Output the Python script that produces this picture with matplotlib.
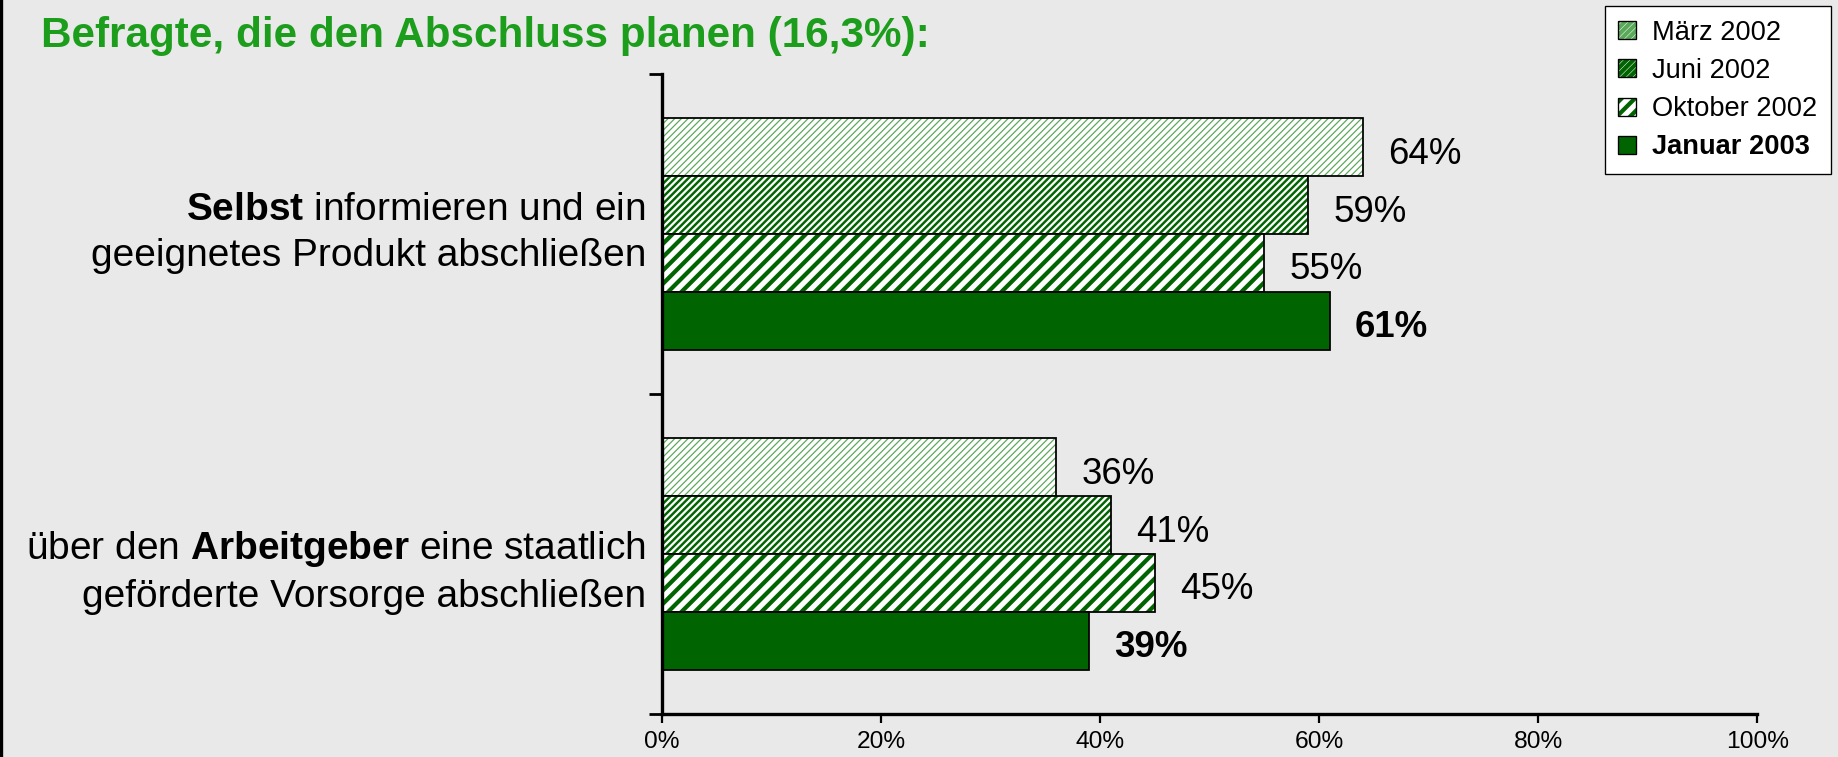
import matplotlib
matplotlib.use("Agg")
import matplotlib.pyplot as plt
from matplotlib.patches import Patch
from matplotlib.legend_handler import HandlerTuple

plt.rcParams['font.family'] = ['Liberation Sans', 'DejaVu Sans']
plt.rcParams['mathtext.fontset'] = 'custom'
plt.rcParams['mathtext.rm'] = 'Liberation Sans'
plt.rcParams['mathtext.bf'] = 'Liberation Sans:bold'

# data
categories = [r"$\mathbf{Selbst}$ informieren und ein" + "\n" + "geeignetes Produkt abschließen",
              r"über den $\mathbf{Arbeitgeber}$ eine staatlich" + "\n" + "geförderte Vorsorge abschließen"]
series = ["März 2002", "Juni 2002", "Oktober 2002", "Januar 2003"]
values = {
    "März 2002": [64, 36],
    "Juni 2002": [59, 41],
    "Oktober 2002": [55, 45],
    "Januar 2003": [61, 39],
}
xticks = [0, 20, 40, 60, 80, 100]
title = "Befragte, die den Abschluss planen (16,3%):"

DPI = 80
bg = '#e9e9e9'
dark = '#006400'
styles = {
    "März 2002": dict(hatch='////', color='#5aa85a', hlw=1.1),
    "Juni 2002": dict(hatch='////', color=dark, hlw=2.2),
    "Oktober 2002": dict(hatch='//', color=dark, hlw=3.8),
    "Januar 2003": dict(hatch=None, color=dark, hlw=1.0),
}

fig = plt.figure(figsize=(1838 / DPI, 757 / DPI), dpi=DPI, facecolor=bg)
ax = fig.add_axes([0.3602, 0.0568, 0.956 - 0.3602, 0.9022 - 0.0568], facecolor=bg)

centers = [1.5, 0.5]
label_shift = [1, -18]   # pixel nudges of the category labels
h = 0.181
offsets = [1.5, 0.5, -0.5, -1.5]


def hatched(patch, st):
    if hasattr(patch, 'set_hatch_linewidth'):
        patch.set_hatch_linewidth(st['hlw'])


for s, off in zip(series, offsets):
    st = styles[s]
    ys = [c + off * h for c in centers]
    if st['hatch']:
        plt.rcParams['hatch.linewidth'] = st['hlw']
        bars = ax.barh(ys, values[s], height=h, color='white', edgecolor=st['color'],
                       hatch=st['hatch'], linewidth=0)
        for b in bars:
            hatched(b, st)
        ax.barh(ys, values[s], height=h, fill=False, edgecolor='black', linewidth=1.6)
    else:
        ax.barh(ys, values[s], height=h, color=st['color'], edgecolor='black', linewidth=1.6)
    for y, v in zip(ys, values[s]):
        ax.annotate(f"{v}%", (v, y), xytext=(25, -7), textcoords='offset pixels',
                    va='center', ha='left', fontsize=33,
                    fontweight='bold' if s == "Januar 2003" else 'normal')

ax.set_xlim(0, 100)
ax.set_ylim(0, 2)
ax.set_xticks(xticks)
ax.set_xticklabels([f"{t}%" for t in xticks], fontsize=22)
ax.set_yticks([0, 1, 2])
ax.set_yticklabels([])
ax.tick_params(axis='y', which='major', length=12, width=2.5, direction='out')
ax.tick_params(axis='x', length=8, width=2, direction='out', pad=7)
for sp in ['top', 'right']:
    ax.spines[sp].set_visible(False)
for sp in ['left', 'bottom']:
    ax.spines[sp].set_linewidth(3)

for c, lab, dy in zip(centers, categories, label_shift):
    ax.annotate(lab, (0, c), xycoords=('axes fraction', 'data'), xytext=(-16, dy),
                textcoords='offset pixels', ha='right', va='center', fontsize=35,
                linespacing=1.36, multialignment='right')

fig.text(41 / 1838, 1 - 36 / 757, title, color='#1c9e1c', fontsize=38,
         fontweight='bold', ha='left', va='center')

# legend
handles = []
for s in series:
    st = styles[s]
    if st['hatch']:
        p1 = Patch(facecolor='white', edgecolor=st['color'], hatch=st['hatch'], linewidth=0)
        hatched(p1, st)
        p2 = Patch(fill=False, edgecolor='black', linewidth=1.2)
        handles.append((p1, p2))
    else:
        handles.append(Patch(facecolor=st['color'], edgecolor='black', linewidth=1.2))
leg = fig.legend(handles, series, loc='upper right', bbox_to_anchor=(0.9962, 0.992),
                 bbox_transform=fig.transFigure, borderaxespad=0, fontsize=24.5,
                 handler_map={tuple: HandlerTuple(ndivide=1)},
                 handlelength=0.65, handleheight=0.65, handletextpad=0.6,
                 fancybox=False, framealpha=1, edgecolor='black', labelspacing=0.45,
                 borderpad=0.5)
leg.get_frame().set_linewidth(1.2)
leg.get_texts()[-1].set_fontweight('bold')

fig.add_artist(plt.Line2D([0.0008, 0.0008], [0, 1], transform=fig.transFigure,
                          color='black', linewidth=3))

fig.savefig('out.png', dpi=DPI, facecolor=bg)
